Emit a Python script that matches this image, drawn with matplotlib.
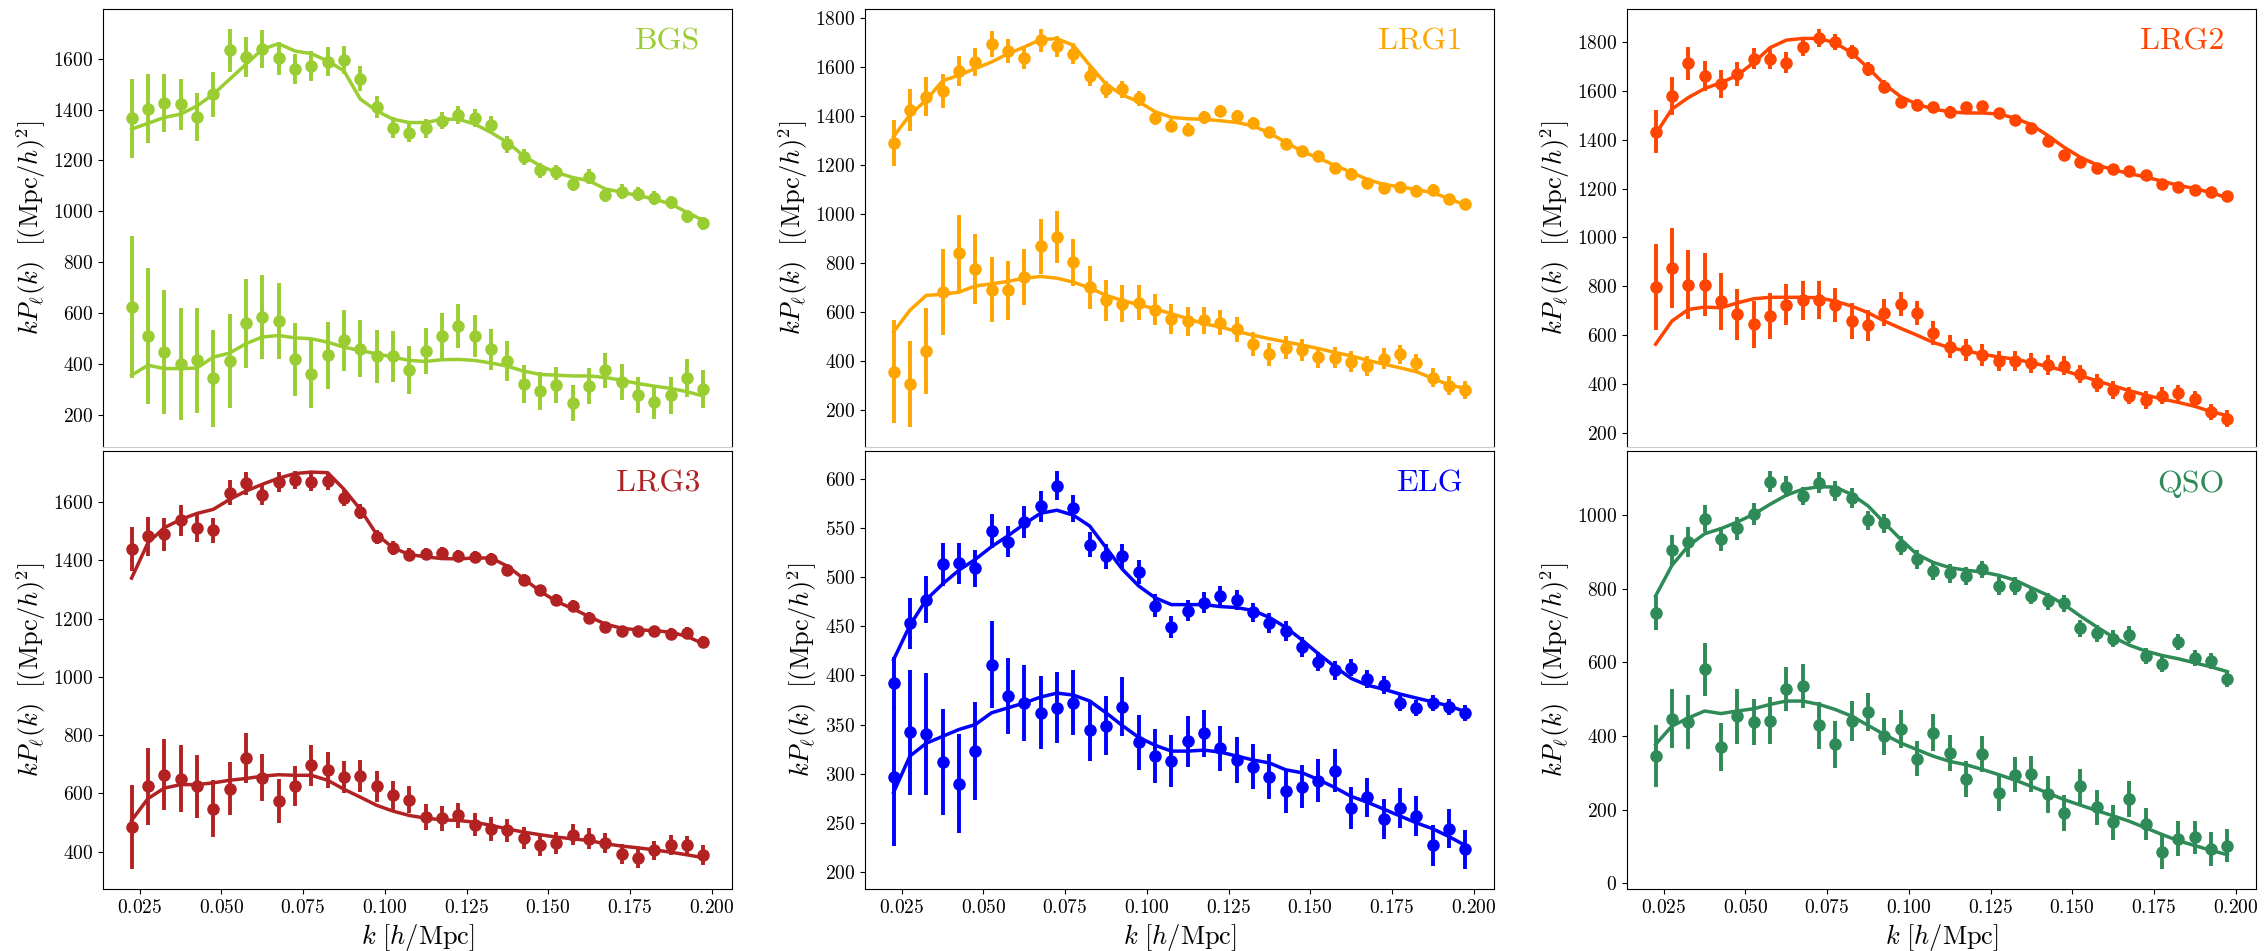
import matplotlib
matplotlib.use('Agg')
import matplotlib.pyplot as plt
from matplotlib.ticker import MultipleLocator
import numpy as np

# plot settings: Computer Modern look
plt.rcParams['font.family'] = 'serif'
plt.rcParams['font.serif'] = ['cmr10']
plt.rcParams['mathtext.fontset'] = 'cm'
plt.rcParams['axes.formatter.use_mathtext'] = True
ticksize = 14
labelsize = 19
namesize = 23

# k bin centres [h/Mpc]
k = [0.0225, 0.0275, 0.0325, 0.0375, 0.0425, 0.0475, 0.0525, 0.0575, 0.0625,
     0.0675, 0.0725, 0.0775, 0.0825, 0.0875, 0.0925, 0.0975, 0.1025, 0.1075,
     0.1125, 0.1175, 0.1225, 0.1275, 0.1325, 0.1375, 0.1425, 0.1475, 0.1525,
     0.1575, 0.1625, 0.1675, 0.1725, 0.1775, 0.1825, 0.1875, 0.1925, 0.1975]

# BGS
bgs_p0 = [1365, 1404, 1424, 1421, 1371, 1460, 1633, 1607, 1639, 1601, 1561, 1571, 1587, 1593, 1522, 1410, 1329, 1307,
          1326, 1356, 1379, 1366, 1340, 1263, 1214, 1161, 1153, 1107, 1136, 1063, 1077, 1068, 1051, 1035, 980, 953]
bgs_p0_err = [155, 135, 114, 100, 93, 88, 84, 78, 75, 64, 59, 59, 57, 55, 50, 44, 40, 36,
              36, 33, 35, 35, 34, 32, 30, 29, 30, 29, 29, 28, 30, 27, 27, 26, 26, 26]
bgs_p0_model = [1323, 1346, 1369, 1382, 1414, 1460, 1519, 1578, 1637, 1659, 1630, 1620, 1591, 1552, 1441, 1395, 1362, 1349,
                1349, 1362, 1362, 1343, 1310, 1271, 1218, 1179, 1153, 1133, 1120, 1088, 1075, 1062, 1048, 1029, 996, 964]
bgs_p2 = [624, 509, 447, 401, 414, 343, 412, 561, 584, 569, 418, 362, 434, 493, 460, 430, 430, 378,
          450, 509, 549, 509, 458, 412, 323, 293, 317, 247, 314, 375, 330, 277, 251, 277, 345, 301]
bgs_p2_err = [278, 267, 242, 220, 207, 191, 186, 175, 165, 149, 144, 136, 132, 121, 111, 105, 99, 94,
              91, 91, 88, 83, 80, 78, 75, 75, 72, 72, 70, 69, 70, 70, 68, 72, 74, 74]
bgs_p2_model = [356, 395, 382, 382, 384, 427, 443, 480, 506, 512, 503, 499, 486, 466, 453, 440, 427, 414,
                410, 417, 418, 414, 404, 391, 372, 359, 356, 353, 353, 347, 336, 323, 313, 304, 291, 274]

# LRG1
lrg1_p0 = [1290, 1425, 1479, 1502, 1585, 1621, 1696, 1665, 1638, 1709, 1685, 1655, 1563, 1509, 1509, 1473, 1391, 1360,
           1344, 1395, 1421, 1401, 1371, 1333, 1287, 1256, 1236, 1188, 1165, 1125, 1107, 1110, 1096, 1100, 1063, 1042]
lrg1_p0_err = [92, 85, 80, 71, 61, 56, 53, 49, 47, 47, 43, 42, 39, 36, 34, 31, 29, 27,
               27, 26, 26, 25, 25, 24, 24, 23, 23, 22, 22, 22, 21, 21, 21, 21, 20, 20]
lrg1_p0_model = [1317, 1405, 1466, 1544, 1567, 1594, 1621, 1655, 1682, 1713, 1716, 1689, 1608, 1531, 1486, 1459, 1418, 1395,
                 1389, 1387, 1381, 1374, 1360, 1331, 1293, 1256, 1229, 1199, 1171, 1141, 1121, 1111, 1100, 1087, 1063, 1036]
lrg1_p2 = [356, 305, 440, 681, 841, 776, 691, 688, 742, 868, 907, 803, 701, 647, 634, 638, 609, 573,
           562, 566, 557, 530, 469, 428, 454, 444, 415, 414, 397, 379, 410, 427, 390, 332, 299, 282]
lrg1_p2_err = [210, 175, 176, 175, 154, 142, 132, 122, 115, 112, 105, 96, 87, 84, 76, 72, 64, 61,
               59, 56, 51, 51, 48, 47, 46, 45, 44, 43, 42, 41, 41, 40, 40, 39, 38, 38]
lrg1_p2_model = [519, 607, 668, 672, 681, 706, 715, 725, 738, 745, 738, 722, 698, 668, 647, 630, 613, 593,
                 573, 552, 539, 521, 505, 491, 478, 465, 451, 435, 421, 403, 387, 372, 356, 329, 302, 288]

# LRG2
lrg2_p0 = [1433, 1579, 1712, 1660, 1627, 1667, 1731, 1731, 1715, 1778, 1816, 1800, 1759, 1690, 1617, 1556, 1543, 1532,
           1515, 1532, 1536, 1507, 1480, 1446, 1394, 1339, 1308, 1284, 1281, 1272, 1254, 1220, 1207, 1196, 1186, 1169]
lrg2_p0_err = [88, 77, 68, 62, 56, 49, 44, 44, 42, 36, 37, 34, 30, 29, 27, 24, 24, 23,
               23, 22, 22, 22, 21, 21, 21, 20, 20, 20, 19, 19, 19, 19, 19, 19, 19, 19]
lrg2_p0_model = [1423, 1525, 1572, 1609, 1633, 1663, 1715, 1776, 1807, 1814, 1814, 1796, 1755, 1694, 1627, 1576, 1545, 1525,
                 1514, 1509, 1509, 1505, 1488, 1461, 1417, 1369, 1328, 1297, 1277, 1261, 1247, 1230, 1213, 1200, 1183, 1162]
lrg2_p2 = [797, 875, 807, 807, 739, 685, 644, 678, 725, 742, 743, 723, 658, 641, 692, 728, 692, 610,
           552, 538, 519, 495, 495, 486, 478, 475, 441, 403, 376, 353, 335, 353, 362, 339, 285, 258]
lrg2_p2_err = [176, 163, 141, 130, 117, 104, 96, 94, 84, 80, 78, 71, 72, 63, 56, 49, 49, 49,
               47, 45, 44, 42, 41, 40, 40, 39, 38, 37, 36, 36, 35, 35, 35, 34, 34, 34]
lrg2_p2_model = [563, 658, 705, 715, 712, 732, 749, 755, 755, 755, 753, 739, 719, 692, 658, 628, 600, 570,
                 549, 536, 522, 511, 502, 488, 472, 455, 434, 414, 393, 373, 355, 339, 325, 309, 287, 271]

# LRG3
lrg3_p0 = [1439, 1483, 1489, 1538, 1512, 1504, 1632, 1664, 1626, 1670, 1676, 1669, 1672, 1615, 1567, 1479, 1443, 1420,
           1422, 1426, 1414, 1412, 1406, 1366, 1334, 1297, 1265, 1244, 1202, 1171, 1156, 1156, 1156, 1148, 1152, 1121]
lrg3_p0_err = [76, 67, 58, 53, 48, 43, 43, 39, 36, 34, 31, 31, 30, 29, 26, 24, 23, 22,
               22, 21, 21, 21, 20, 20, 20, 19, 19, 19, 19, 18, 18, 18, 18, 18, 18, 18]
lrg3_p0_model = [1339, 1460, 1512, 1540, 1561, 1575, 1609, 1638, 1661, 1682, 1698, 1703, 1701, 1644, 1575, 1489, 1443, 1420,
                 1412, 1406, 1405, 1408, 1408, 1380, 1337, 1294, 1259, 1234, 1207, 1181, 1167, 1161, 1159, 1153, 1139, 1113]
lrg3_p2 = [484, 624, 664, 651, 624, 547, 616, 722, 654, 573, 624, 696, 679, 656, 659, 624, 593, 578,
           519, 515, 524, 493, 478, 473, 447, 421, 430, 458, 444, 430, 392, 379, 404, 424, 421, 389]
lrg3_p2_err = [144, 132, 122, 114, 107, 98, 92, 86, 80, 75, 69, 70, 62, 56, 55, 53, 49, 46,
               45, 43, 42, 41, 40, 39, 38, 37, 37, 36, 36, 35, 35, 35, 34, 34, 34, 34]
lrg3_p2_model = [507, 582, 618, 630, 630, 636, 645, 651, 659, 664, 662, 662, 645, 614, 587, 559, 539, 524,
                 515, 509, 507, 501, 490, 478, 467, 458, 450, 444, 438, 427, 419, 413, 406, 398, 389, 379]

# ELG
elg_p0 = [392, 453, 477, 513, 514, 509, 547, 536, 556, 572, 593, 570, 533, 521, 521, 505, 471, 449,
          466, 474, 481, 477, 464, 453, 445, 429, 414, 405, 408, 396, 390, 372, 367, 372, 368, 362]
elg_p0_err = [27, 26, 24, 22, 21, 19, 17, 16, 16, 16, 15, 14, 13, 13, 13, 12, 12, 11,
              11, 11, 10, 10, 10, 10, 10, 10, 10, 10, 9, 9, 9, 8, 8, 8, 8, 8]
elg_p0_model = [416, 451, 477, 493, 507, 518, 531, 542, 554, 565, 568, 563, 552, 530, 508, 491, 479, 472,
                472, 472, 470, 469, 466, 459, 449, 436, 422, 409, 397, 390, 386, 381, 377, 373, 369, 363]
elg_p2 = [297, 342, 340, 312, 290, 323, 411, 379, 372, 362, 367, 372, 344, 349, 368, 332, 318, 313,
          333, 341, 326, 314, 307, 297, 282, 287, 293, 303, 265, 276, 254, 265, 257, 227, 244, 223]
elg_p2_err = [71, 64, 62, 54, 50, 50, 44, 39, 39, 37, 36, 33, 31, 30, 30, 28, 27, 26,
              26, 24, 23, 23, 23, 23, 22, 22, 22, 22, 21, 20, 20, 20, 20, 21, 20, 20]
elg_p2_model = [281, 318, 331, 338, 345, 350, 362, 367, 372, 378, 382, 380, 374, 362, 349, 337, 329, 323,
                323, 324, 322, 318, 314, 311, 304, 301, 294, 286, 277, 271, 264, 257, 250, 244, 236, 227]

# QSO
qso_p0 = [734, 905, 928, 991, 935, 965, 1003, 1092, 1078, 1053, 1089, 1067, 1047, 987, 978, 917, 881, 849,
          842, 835, 853, 808, 808, 781, 767, 761, 693, 679, 665, 676, 617, 596, 656, 613, 604, 554]
qso_p0_err = [46, 41, 41, 37, 33, 31, 30, 29, 28, 25, 28, 27, 28, 26, 26, 26, 26, 25,
              25, 25, 24, 24, 24, 23, 23, 23, 23, 23, 22, 22, 22, 22, 22, 22, 22, 22]
qso_p0_model = [781, 864, 917, 950, 964, 982, 1003, 1030, 1055, 1071, 1078, 1077, 1057, 1026, 980, 935, 894, 872,
                858, 851, 846, 837, 824, 803, 783, 758, 726, 697, 669, 647, 631, 619, 610, 599, 588, 575]
qso_p2 = [345, 447, 438, 581, 370, 454, 438, 442, 529, 537, 429, 377, 440, 465, 399, 419, 338, 409,
          354, 283, 351, 245, 295, 297, 241, 191, 263, 206, 165, 229, 161, 84, 121, 124, 93, 102]
qso_p2_err = [85, 80, 74, 71, 65, 75, 62, 63, 60, 60, 64, 64, 54, 51, 50, 52, 48, 50,
              49, 48, 50, 50, 48, 49, 51, 49, 48, 48, 48, 48, 44, 46, 48, 45, 46, 45]
qso_p2_model = [377, 427, 449, 468, 461, 468, 474, 486, 495, 495, 486, 472, 454, 429, 404, 381, 363, 345,
                331, 322, 309, 295, 280, 263, 245, 227, 212, 197, 183, 168, 150, 132, 115, 102, 89, 77]

tracers = ['BGS', 'LRG1', 'LRG2', 'LRG3', 'ELG', 'QSO']
colors = ['yellowgreen', 'orange', 'orangered', 'firebrick', 'blue', 'seagreen']
data = {
    'BGS': (bgs_p0, bgs_p0_err, bgs_p0_model, bgs_p2, bgs_p2_err, bgs_p2_model),
    'LRG1': (lrg1_p0, lrg1_p0_err, lrg1_p0_model, lrg1_p2, lrg1_p2_err, lrg1_p2_model),
    'LRG2': (lrg2_p0, lrg2_p0_err, lrg2_p0_model, lrg2_p2, lrg2_p2_err, lrg2_p2_model),
    'LRG3': (lrg3_p0, lrg3_p0_err, lrg3_p0_model, lrg3_p2, lrg3_p2_err, lrg3_p2_model),
    'ELG': (elg_p0, elg_p0_err, elg_p0_model, elg_p2, elg_p2_err, elg_p2_model),
    'QSO': (qso_p0, qso_p0_err, qso_p0_model, qso_p2, qso_p2_err, qso_p2_model),
}

W, H = 2265, 951
fig = plt.figure(figsize=(W / 100, H / 100), dpi=100)

lefts = [103, 865, 1627]
tops = [9, 451]
pw, ph = 629, 438

for i, name in enumerate(tracers):
    row, col = divmod(i, 3)
    rect = [lefts[col] / W, 1 - (tops[row] + ph) / H, pw / W, ph / H]
    ax = fig.add_axes(rect)
    c = colors[i]
    p0, p0e, m0, p2, p2e, m2 = data[name]

    for y, yerr, model in [(p0, p0e, m0), (p2, p2e, m2)]:
        ax.errorbar(k, y, yerr=yerr, fmt='o', color=c, ms=8, elinewidth=2.8, capsize=0, zorder=2)
        ax.plot(k, model, color=c, lw=2.5, zorder=3)

    ax.text(0.95, 0.925, name, transform=ax.transAxes, ha='right', va='center',
            color=c, fontsize=namesize)

    ax.yaxis.set_major_locator(MultipleLocator(50 if name == 'ELG' else 200))
    ax.tick_params(axis='both', labelsize=ticksize)
    ax.set_ylabel(r'$kP_\ell(k)\ \ [(\mathrm{Mpc}/h)^2]$', fontsize=labelsize)

    if row == 0:
        ax.tick_params(axis='x', bottom=False, labelbottom=False)
        ax.spines['bottom'].set_color('0.8')
    else:
        ax.set_xlabel(r'$k\ [h/\mathrm{Mpc}]$', fontsize=labelsize)
    ax.set_xlim(0.01375, 0.20625)

fig.savefig('out.png', dpi=100)
